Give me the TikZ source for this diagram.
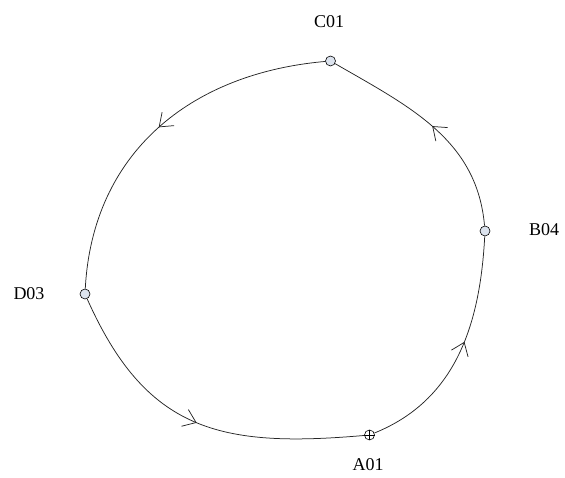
\documentclass[tikz,border=0pt]{standalone}
\usepackage{fontspec}
\setmainfont{Liberation Serif}
\usetikzlibrary{arrows.meta,decorations.markings}
\definecolor{stfill}{HTML}{DCE3EE}
\begin{document}
\begin{tikzpicture}[x=1pt,y=1pt,
  station/.style={circle,draw=black,line width=0.6pt,fill=stfill,minimum size=10pt,inner sep=0pt},
  lbl/.style={font=\fontsize{18}{20}\selectfont,inner sep=0pt},
  track/.style={draw=black!85,line width=0.75pt},
  midarrow/.style={postaction={decorate},decoration={markings,
     mark=at position #1 with {\arrow{Straight Barb[length=12pt,width=18pt,line width=0.75pt]}}}}
]
\useasboundingbox (0,0) rectangle (565,478);
\node[station] (C) at (330.5,417) {};
\node[station] (B) at (485,247) {};
\node[station] (D) at (85,184) {};
\node[station,fill=white] (A) at (369.5,43) {};
\draw[line width=0.6pt] (A.north) -- (A.south) (A.west) -- (A.east);
\node[lbl] (Cl) at (329,456) {C01};
\node[lbl] (Bl) at (544,248) {B04};
\node[lbl] (Dl) at (29,184) {D03};
\node[lbl] (Al) at (368,13) {A01};
\draw[track,midarrow=0.55] (A) to[out=22,in=-93] (B);
\draw[track,midarrow=0.5] (B) to[out=95,in=-30] (C);
\draw[track,midarrow=0.5] (C) to[out=185,in=87,looseness=1.05] (D);
\draw[track,midarrow=0.5] (D) to[out=-66,in=185,looseness=1.2] (A);
\end{tikzpicture}
\end{document}
